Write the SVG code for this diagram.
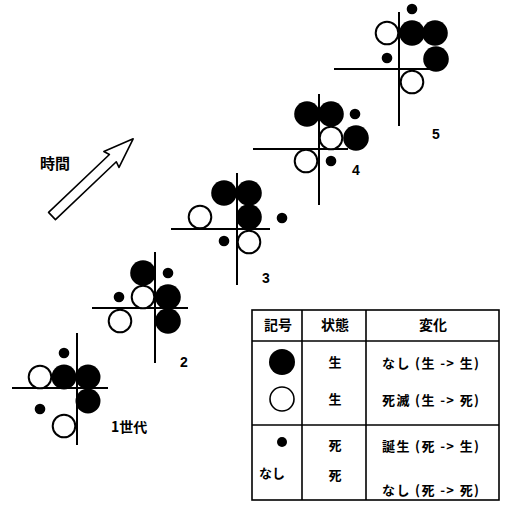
<svg xmlns="http://www.w3.org/2000/svg" width="506" height="505" viewBox="0 0 506 505">
<style>
.ln{stroke:#000;stroke-width:2;fill:none}
.f{fill:#000}
.o{fill:#fff;stroke:#000;stroke-width:2}
.d{fill:#000}
.t{font-family:"Noto Sans CJK JP","Noto Sans CJK SC",sans-serif;font-weight:bold;fill:#000}
.n{font-family:"Liberation Sans",Arial,sans-serif;font-weight:bold;font-size:14px;fill:#000}
.tb{stroke:#000;stroke-width:1.6;fill:none}
</style>
<rect width="506" height="505" fill="#fff"/>
<g id="arrow">
<polygon transform="translate(52,216) rotate(-43.56)" points="0,-5 84,-5 82,-11 112,0 82,11 84,5 0,5" fill="#fff" stroke="#000" stroke-width="1.6" stroke-linejoin="round"/>
<text class="t" x="40" y="169" font-size="15">時間</text>
</g>
<g id="gen1">
<line class="ln" x1="12" y1="388" x2="108" y2="388"/>
<line class="ln" x1="77" y1="333" x2="77" y2="445"/>
<circle class="o" cx="40" cy="377" r="11.3"/>
<circle class="f" cx="64" cy="377" r="12.5"/>
<circle class="f" cx="88" cy="377" r="12.5"/>
<circle class="f" cx="88" cy="401" r="12.5"/>
<circle class="d" cx="64" cy="353" r="5.3"/>
<circle class="d" cx="40" cy="409" r="5.3"/>
<circle class="o" cx="64" cy="426" r="11.3"/>
<text class="t" x="111" y="432" font-size="14">1世代</text>
</g>
<g id="gen2">
<line class="ln" x1="92" y1="308" x2="188" y2="308"/>
<line class="ln" x1="155" y1="252" x2="155" y2="363"/>
<circle class="f" cx="143" cy="273" r="12.8"/>
<circle class="d" cx="168" cy="273" r="5.3"/>
<circle class="d" cx="119" cy="297" r="5.3"/>
<circle class="o" cx="143" cy="297" r="11.3"/>
<circle class="f" cx="168" cy="297" r="12.8"/>
<circle class="f" cx="168" cy="321" r="12.8"/>
<circle class="o" cx="120" cy="321" r="11.3"/>
<text class="n" x="180" y="367">2</text>
</g>
<g id="gen3">
<line class="ln" x1="171" y1="229" x2="270" y2="229"/>
<line class="ln" x1="237" y1="173" x2="237" y2="285"/>
<circle class="f" cx="224" cy="193" r="12.8"/>
<circle class="f" cx="249" cy="193" r="12.8"/>
<circle class="f" cx="249" cy="217" r="12.8"/>
<circle class="o" cx="200" cy="217" r="11.3"/>
<circle class="d" cx="282" cy="218" r="5.3"/>
<circle class="d" cx="224" cy="241" r="5.3"/>
<circle class="o" cx="249" cy="242" r="11.3"/>
<text class="n" x="262" y="283">3</text>
</g>
<g id="gen4">
<line class="ln" x1="253" y1="149" x2="348" y2="149"/>
<line class="ln" x1="319" y1="94" x2="319" y2="205"/>
<circle class="f" cx="307" cy="114" r="12.8"/>
<circle class="f" cx="331" cy="114" r="12.8"/>
<circle class="d" cx="355" cy="114" r="5.3"/>
<circle class="o" cx="331" cy="138" r="11.3"/>
<circle class="f" cx="356" cy="138" r="12.8"/>
<circle class="o" cx="306" cy="161" r="11.3"/>
<circle class="d" cx="331" cy="161" r="5.3"/>
<text class="n" x="352" y="175">4</text>
</g>
<g id="gen5">
<line class="ln" x1="334" y1="69" x2="430" y2="69"/>
<line class="ln" x1="399" y1="12" x2="399" y2="126"/>
<circle class="d" cx="412" cy="9" r="5.3"/>
<circle class="o" cx="387" cy="33" r="11.3"/>
<circle class="f" cx="412" cy="33" r="12.8"/>
<circle class="f" cx="435" cy="33" r="12.8"/>
<circle class="d" cx="387" cy="58" r="5.3"/>
<circle class="f" cx="436" cy="59" r="12.8"/>
<circle class="o" cx="412" cy="82" r="11.3"/>
<text class="n" x="432" y="139">5</text>
</g>
<g id="legend">
<rect class="tb" x="252" y="310" width="247" height="190"/>
<line class="tb" x1="302" y1="310" x2="302" y2="500"/>
<line class="tb" x1="366" y1="310" x2="366" y2="500"/>
<line class="tb" x1="252" y1="341" x2="499" y2="341"/>
<line class="tb" x1="252" y1="425" x2="499" y2="425"/>
<g class="t" font-size="14" text-anchor="middle">
<text x="278" y="330">記号</text>
<text x="335" y="330">状態</text>
<text x="433" y="330">変化</text>
</g>
<circle cx="282" cy="362" r="13" fill="#000"/>
<circle cx="282" cy="399" r="12" fill="#fff" stroke="#000" stroke-width="1.6"/>
<circle cx="282" cy="442" r="5" fill="#000"/>
<g class="t" font-size="13" text-anchor="middle">
<text x="335" y="367">生</text>
<text x="335" y="404">生</text>
<text x="335" y="450">死</text>
<text x="335" y="480">死</text>
<text x="272" y="478">なし</text>
</g>
<g class="t" font-size="13">
<text x="382" y="368" textLength="97" lengthAdjust="spacing">なし (生 -&gt; 生)</text>
<text x="382" y="405" textLength="97" lengthAdjust="spacing">死滅 (生 -&gt; 死)</text>
<text x="382" y="451" textLength="97" lengthAdjust="spacing">誕生 (死 -&gt; 生)</text>
<text x="382" y="495" textLength="97" lengthAdjust="spacing">なし (死 -&gt; 死)</text>
</g>
</g>
</svg>
